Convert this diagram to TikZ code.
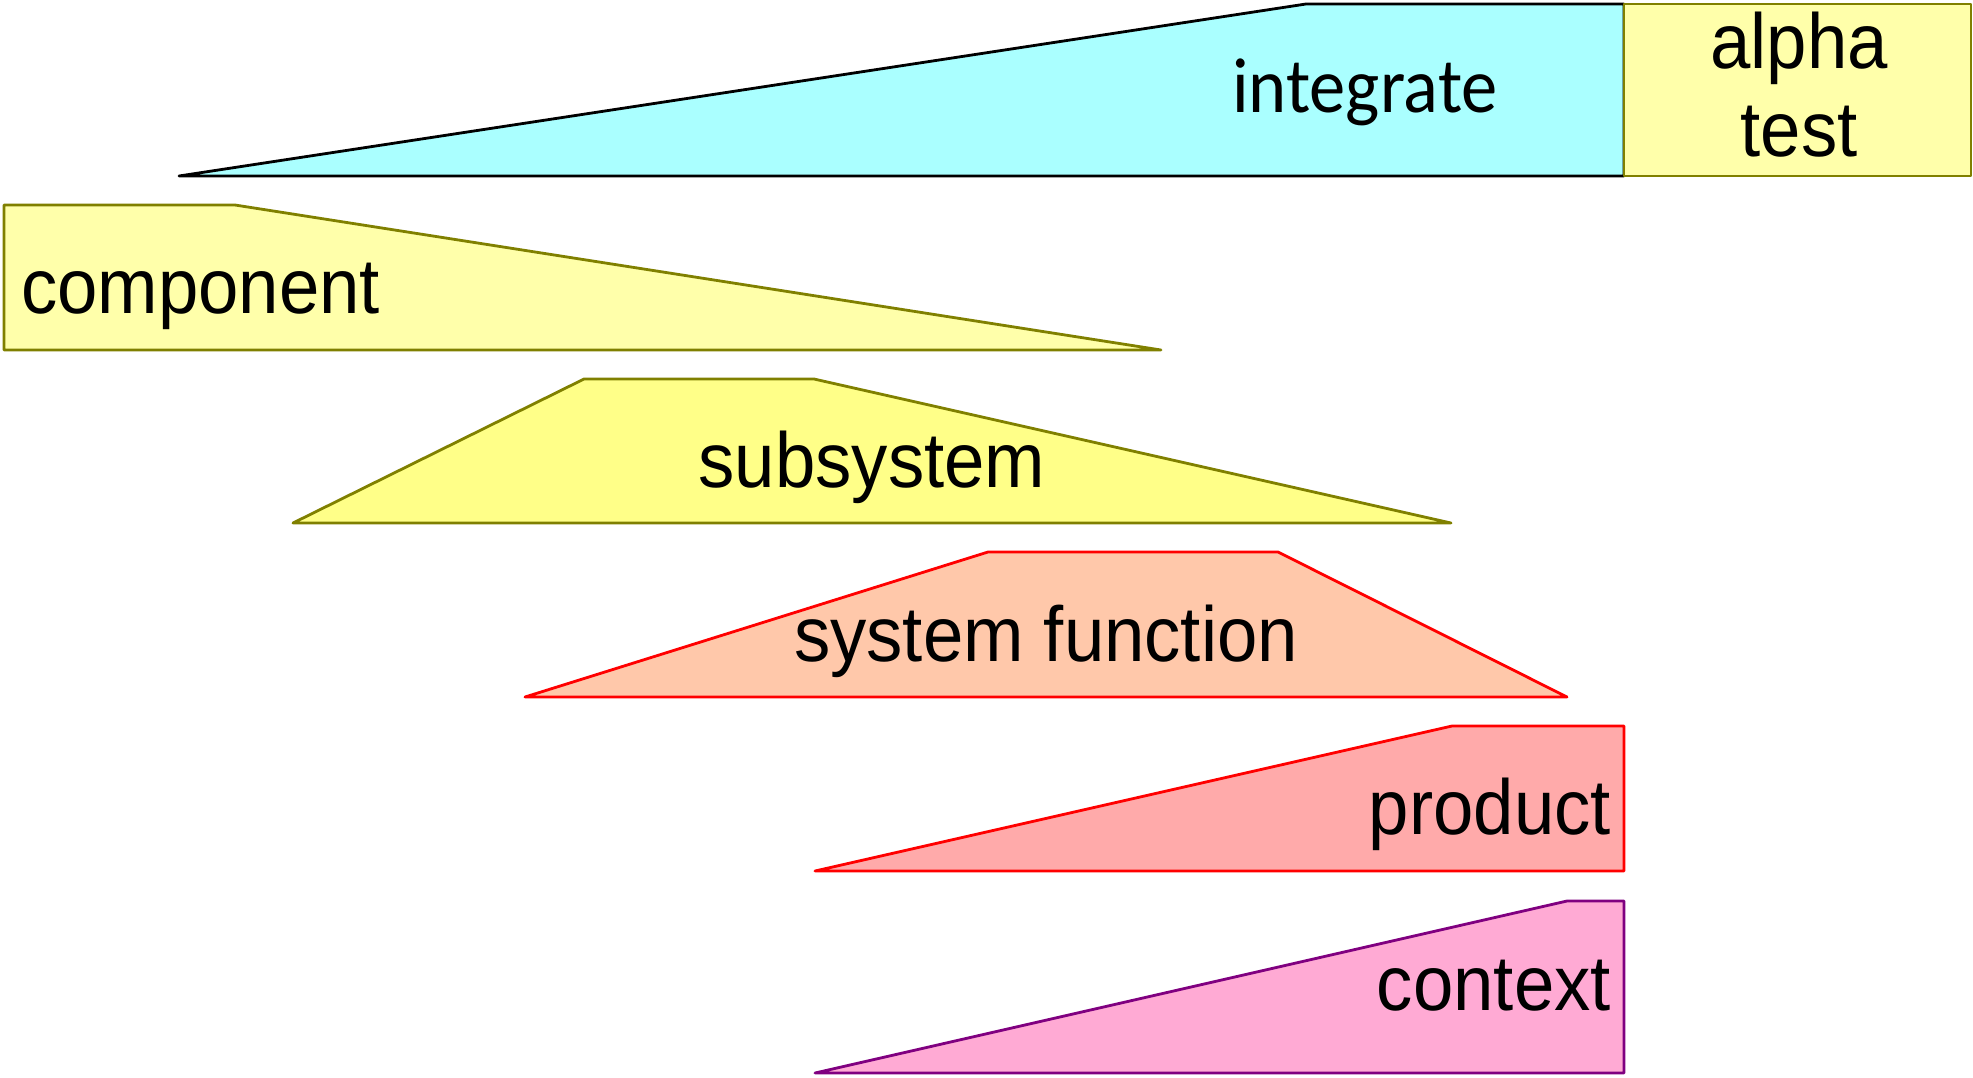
\documentclass[tikz,border=0pt]{standalone}
\usepackage{fontspec}
\setmainfont{Liberation Sans}
\newfontfamily\calfont{Carlito}
\definecolor{cyanfill}{HTML}{AAFFFF}
\definecolor{paleyellow}{HTML}{FFFFAA}
\definecolor{midyellow}{HTML}{FFFF88}
\definecolor{peach}{HTML}{FFC8AA}
\definecolor{salmon}{HTML}{FFAAAA}
\definecolor{pinkfill}{HTML}{FFAAD4}
\definecolor{olivedge}{HTML}{808000}
\definecolor{purpedge}{HTML}{800080}
\tikzset{
  shp/.style={line width=2.8pt, line join=round},
  lbl/.style={inner sep=0pt, font=\fontsize{78}{88}\selectfont},
}
\newcommand{\sq}[1]{\scalebox{0.93}[1]{#1}}
\begin{document}
\begin{tikzpicture}[x=1pt,y=-1pt]
\useasboundingbox (0,0) rectangle (1973,1077);
% integrate
\filldraw[shp, fill=cyanfill, draw=black] (179,176) -- (1306,4) -- (1624,4) -- (1624,176) -- cycle;
% alpha test
\filldraw[shp, fill=paleyellow, draw=olivedge] (1624,4) rectangle (1971,176);
% component
\filldraw[shp, fill=paleyellow, draw=olivedge] (4,205) -- (235,205) -- (1161,350) -- (4,350) -- cycle;
% subsystem
\filldraw[shp, fill=midyellow, draw=olivedge] (293,523) -- (584,379) -- (814,379) -- (1451,523) -- cycle;
% system function
\filldraw[shp, fill=peach, draw=red] (525,697) -- (988,552) -- (1278,552) -- (1567,697) -- cycle;
% product
\filldraw[shp, fill=salmon, draw=red] (815,871) -- (1452,726) -- (1624,726) -- (1624,871) -- cycle;
% context
\filldraw[shp, fill=pinkfill, draw=purpedge] (815,1073) -- (1567,901) -- (1624,901) -- (1624,1073) -- cycle;
% labels
\node[lbl, anchor=base west] (tint) at (1232,112) {\calfont\sq{integrate}};
\node[lbl, anchor=base] (talpha) at (1799,68) {\sq{alpha}};
\node[lbl, anchor=base] (ttest) at (1799,156) {\sq{test}};
\node[lbl, anchor=base west] (tcomp) at (21,313) {\sq{component}};
\node[lbl, anchor=base] (tsub) at (872,487) {\sq{subsystem}};
\node[lbl, anchor=base] (tsys) at (1046,661) {\sq{system function}};
\node[lbl, anchor=base east] (tprod) at (1611,834) {\sq{product}};
\node[lbl, anchor=base east] (tctx) at (1611,1010) {\sq{context}};
\end{tikzpicture}
\end{document}
